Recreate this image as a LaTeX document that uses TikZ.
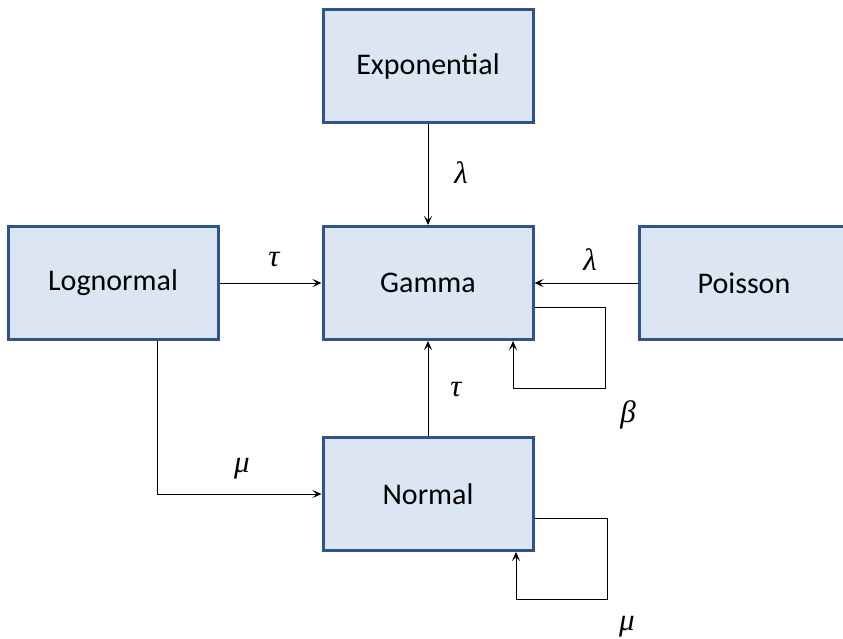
\documentclass[tikz,border=0pt]{standalone}
\usepackage{fontspec}
\setmainfont{Carlito}
\newfontfamily\greekfont{Liberation Serif}
\usetikzlibrary{arrows.meta,calc}
\definecolor{boxfill}{HTML}{DCE6F2}
\definecolor{boxline}{HTML}{2F5391}
\begin{document}
\begin{tikzpicture}[x=1pt,y=-1pt,
  dist/.style={draw=boxline, fill=boxfill, line width=3pt,
    minimum width=210pt, minimum height=113pt, inner sep=0pt,
    font=\fontsize{30}{34}\selectfont},
  arr/.style={draw=black, line width=0.9pt,
    -{Stealth[length=9pt,width=8pt,inset=4pt]}},
  lbl/.style={font=\greekfont\itshape\fontsize{31}{34}\selectfont, inner sep=0pt}]
  \useasboundingbox (0,0) rectangle (843,638);

  % distributions
  \node[dist] (expo) at (428,66)  {Exponential};
  \node[dist] (logn) at (113,283) {Lognormal};
  \node[dist] (gam)  at (428,283) {Gamma};
  \node[dist] (poi)  at (744,283) {Poisson};
  \node[dist] (nor)  at (428,494) {Normal};

  % parameter links
  \draw[arr] (expo.south) -- (gam.north);
  \draw[arr] (logn.east) -- (gam.west);
  \draw[arr] (poi.west) -- (gam.east);
  \draw[arr] (nor.north) -- (gam.south);
  \draw[arr] ([xshift=44pt]logn.south) |- (nor.west);

  % self loops
  \coordinate (gloop) at (605,388);
  \coordinate (nloop) at (607,599);
  \draw[arr] ([yshift=-24pt]gam.east) -| (gloop) -| ([xshift=85pt]gam.south);
  \draw[arr] ([yshift=-24pt]nor.east) -| (nloop) -| ([xshift=88pt]nor.south);

  % parameter labels
  \node[lbl] (l1) at (461,173) {λ};
  \node[lbl] (l2) at (274,260) {τ};
  \node[lbl] (l3) at (590,260) {λ};
  \node[lbl] (l4) at (456,390) {τ};
  \node[lbl] (l5) at (628,415) {β};
  \node[lbl] (l6) at (242,469) {μ};
  \node[lbl] (l7) at (627,627) {μ};
\end{tikzpicture}
\end{document}
